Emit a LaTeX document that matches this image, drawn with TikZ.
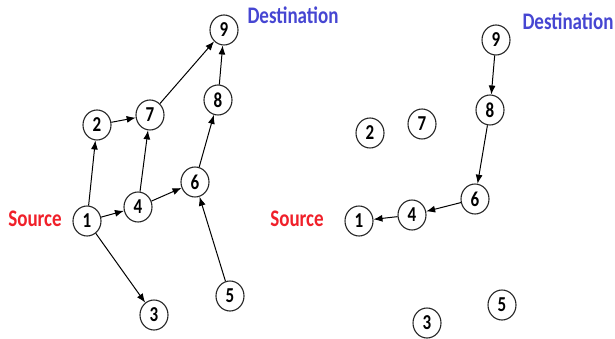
\documentclass[tikz,border=0pt]{standalone}
\usepackage{fontspec}
\setmainfont{Carlito}
\usetikzlibrary{shapes.geometric,arrows.meta}
\definecolor{srcred}{HTML}{F0202A}
\definecolor{dstblue}{HTML}{4646D2}
\tikzset{
  vtx/.style={ellipse,draw=black!85,line width=1.1pt,fill=white,minimum width=28pt,minimum height=30pt,inner sep=0pt,
    font=\fontsize{17}{17}\selectfont\bfseries},
  lbl/.style={inner sep=0pt,font=\fontsize{19}{19}\selectfont\bfseries},
  edge/.style={line width=1pt,-{Latex[length=9pt,width=7pt]}}
}
\newcommand{\tall}[1]{\scalebox{1}[1.25]{#1}}
\begin{document}
\begin{tikzpicture}[x=1pt,y=-1pt]
\useasboundingbox (0,0) rectangle (615,339);
% left graph
\node[vtx] (a9) at (224,30) {\tall{9}};
\node[vtx] (a8) at (218,100) {\tall{8}};
\node[vtx] (a7) at (150,115) {\tall{7}};
\node[vtx] (a2) at (97,125) {\tall{2}};
\node[vtx] (a6) at (195,182) {\tall{6}};
\node[vtx] (a4) at (138,207) {\tall{4}};
\node[vtx] (a1) at (87,221) {\tall{1}};
\node[vtx] (a3) at (154,315) {\tall{3}};
\node[vtx] (a5) at (230,296) {\tall{5}};
\node[lbl,text=srcred] (asrc) at (35,219) {\tall{Source}};
\node[lbl,text=dstblue] (adst) at (293,15) {\tall{Destination}};
\draw[edge] (a1) -- (a2);
\draw[edge] (a1) -- (a4);
\draw[edge] (a1) -- (a3);
\draw[edge] (a2) -- (a7);
\draw[edge] (a4) -- (a7);
\draw[edge] (a4) -- (a6);
\draw[edge] (a7) -- (a9);
\draw[edge] (a6) -- (a8);
\draw[edge] (a8) -- (a9);
\draw[edge] (a5) -- (a6);
% right graph
\node[vtx] (b9) at (496,40) {\tall{9}};
\node[vtx] (b8) at (490,110) {\tall{8}};
\node[vtx] (b2) at (370,133) {\tall{2}};
\node[vtx] (b7) at (422,124) {\tall{7}};
\node[vtx] (b6) at (475,199) {\tall{6}};
\node[vtx] (b4) at (412,215) {\tall{4}};
\node[vtx] (b1) at (359,221) {\tall{1}};
\node[vtx] (b3) at (427,323) {\tall{3}};
\node[vtx] (b5) at (502,305) {\tall{5}};
\node[lbl,text=srcred] (bsrc) at (297,219) {\tall{Source}};
\node[lbl,text=dstblue] (bdst) at (568,21) {\tall{Destination}};
\draw[edge] (b9) -- (b8);
\draw[edge] (b8) -- (b6);
\draw[edge] (b6) -- (b4);
\draw[edge] (b4) -- (b1);
\end{tikzpicture}
\end{document}
